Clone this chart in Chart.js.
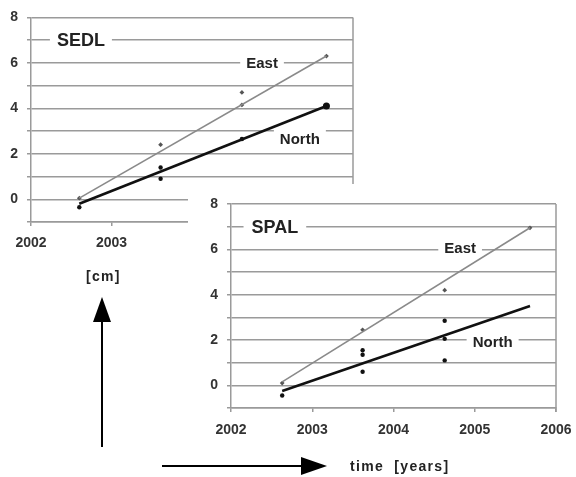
<!DOCTYPE html>
<html><head><meta charset="utf-8">
<script src="https://cdn.jsdelivr.net/npm/chart.js@4"></script>
<style>
html,body{margin:0;padding:0;background:#fff;width:576px;height:477px;overflow:hidden;}
#c1{position:absolute;left:0;top:0;}
#c2{position:absolute;left:188px;top:184px;background:#fff;}
.lbl{position:absolute;font:bold 14px "Liberation Sans",Arial,sans-serif;color:#222;white-space:pre;line-height:14px;letter-spacing:1.3px;}
svg{position:absolute;left:0;top:0;}
</style></head><body>
<canvas id="c1" width="370" height="250"></canvas>
<canvas id="c2" width="388" height="262"></canvas>
<svg width="576" height="477">
  <line x1="102" y1="447" x2="102" y2="318" stroke="#000" stroke-width="2"/>
  <polygon points="102,297 93,322 111,322" fill="#000"/>
  <line x1="162" y1="466" x2="304" y2="466" stroke="#000" stroke-width="2"/>
  <polygon points="327,466 301,457 301,475" fill="#000"/>
</svg>
<div class="lbl" style="left:86px;top:269px;">[cm]</div>
<div class="lbl" style="left:350px;top:459px;">time  [years]</div>
<script>
// ---- data ----
const xTickYears = [2002, 2003, 2004, 2005, 2006];
const yTickLabels = [0, 2, 4, 6, 8];

// SEDL
const sedlLineX = [2002.6, 2005.67];
const sedlEastLine = [0.05, 6.3];
const sedlNorthLine = [-0.2, 4.1];
const sedlEastObsX = [2002.6, 2003.61, 2004.62, 2004.62, 2005.67];
const sedlEastObsY = [0.05, 2.4, 4.7, 4.15, 6.3];
const sedlNorthObsX = [2002.6, 2003.61, 2003.61, 2004.62, 2005.67];
const sedlNorthObsY = [-0.35, 1.4, 0.9, 2.65, 4.1];

// SPAL
const spalLineX = [2002.63, 2005.68];
const spalEastLine = [0.15, 6.95];
const spalNorthLine = [-0.25, 3.5];
const spalEastObsX = [2002.63, 2003.62, 2004.63, 2005.68];
const spalEastObsY = [0.1, 2.45, 4.2, 6.95];
const spalNorthObsX = [2002.63, 2003.62, 2003.62, 2003.62, 2004.63, 2004.63, 2004.63];
const spalNorthObsY = [-0.45, 1.55, 1.35, 0.6, 2.85, 2.05, 1.1];

const seriesNames = ['East', 'North'];

// ---- helpers ----
const pts = (xs, ys) => xs.map((x, i) => ({x, y: ys[i]}));
const FONT = 'Liberation Sans';
const GRID = '#9a9a9a';

const textPlugin = {
  id: 'texts',
  beforeDatasetsDraw(chart, args, opts) {
    const {ctx, scales: {x, y}, chartArea: a} = chart;
    ctx.save();
    ctx.strokeStyle = GRID; ctx.lineWidth = 1.5;
    ctx.beginPath(); ctx.moveTo(a.right, a.top); ctx.lineTo(a.right, a.bottom + 4); ctx.stroke();
    (opts.items || []).forEach(it => {
      ctx.font = 'bold ' + it.size + 'px "' + FONT + '"';
      const w = ctx.measureText(it.text).width;
      const px = x.getPixelForValue(it.x), py = y.getPixelForValue(it.y);
      ctx.fillStyle = '#fff';
      ctx.fillRect(px - w / 2 - it.pad, py - it.h / 2, w + 2 * it.pad, it.h);
      ctx.fillStyle = '#222'; ctx.textAlign = 'center'; ctx.textBaseline = 'middle';
      ctx.fillText(it.text, px, py + 1);
    });
    ctx.restore();
  }
};

function makeChart(id, d, geom, items) {
  return new Chart(document.getElementById(id), {
    type: 'scatter',
    data: {
      datasets: [
        {label: seriesNames[0], data: pts(d.lineX, d.east), showLine: true, borderColor: '#8a8a8a', borderWidth: 1.6, pointRadius: 0},
        {label: seriesNames[1], data: pts(d.lineX, d.north), showLine: true, borderColor: '#111', borderWidth: 2.6, pointRadius: 0},
        {label: seriesNames[0] + ' obs', data: pts(d.eastX, d.eastY), pointRadius: 2.4, pointStyle: 'rectRot', backgroundColor: '#555', borderColor: '#555', borderWidth: 0},
        {label: seriesNames[1] + ' obs', data: pts(d.northX, d.northY), backgroundColor: '#111', borderColor: '#111', borderWidth: 0,
          pointRadius: ctx => (d.bigEnd && ctx.dataIndex === d.northX.length - 1) ? 3.5 : 2.2}
      ]
    },
    options: {
      responsive: false, animation: false, devicePixelRatio: 1,
      layout: {padding: {left: 0, top: geom.top, right: geom.right, bottom: 0}},
      plugins: {legend: {display: false}, tooltip: {enabled: false}, texts: {items}},
      scales: {
        x: {
          type: 'linear', min: 2002, max: 2006,
          afterFit: s => { s.height = geom.xh; s.paddingLeft = 0; s.paddingRight = 0; },
          afterBuildTicks: s => { s.ticks = xTickYears.map(v => ({value: v})); },
          ticks: {callback: v => (v <= geom.maxLabel ? String(v) : ''), color: '#333', padding: geom.xpad, maxRotation: 0,
                  font: {family: FONT, size: 14, weight: 'bold'}},
          grid: {drawOnChartArea: false, drawTicks: true, tickLength: 4, color: GRID, lineWidth: 1.5},
          border: {display: true, color: GRID, width: 1.5}
        },
        y: {
          min: -1, max: 8,
          afterFit: s => { s.width = geom.yw; },
          ticks: {stepSize: 1, autoSkip: false, color: '#333', padding: 9,
                  callback: v => yTickLabels.includes(v) ? String(v) : '',
                  font: {family: FONT, size: 14, weight: 'bold'}},
          grid: {color: GRID, lineWidth: 1.5, tickLength: 4},
          border: {display: true, color: GRID, width: 1.5}
        }
      }
    },
    plugins: [textPlugin]
  });
}

makeChart('c1', {lineX: sedlLineX, east: sedlEastLine, north: sedlNorthLine,
  eastX: sedlEastObsX, eastY: sedlEastObsY, northX: sedlNorthObsX, northY: sedlNorthObsY, bigEnd: true},
  {top: 14, right: 17, xh: 28, yw: 31, xpad: 9, maxLabel: 2003},
  [{text: 'SEDL', x: 2002.62, y: 7, size: 18, pad: 7, h: 16},
   {text: 'East', x: 2004.87, y: 6, size: 15, pad: 6, h: 14},
   {text: 'North', x: 2005.34, y: 2.67, size: 15, pad: 6, h: 18}]);

makeChart('c2', {lineX: spalLineX, east: spalEastLine, north: spalNorthLine,
  eastX: spalEastObsX, eastY: spalEastObsY, northX: spalNorthObsX, northY: spalNorthObsY, bigEnd: false},
  {top: 20, right: 20, xh: 38, yw: 43, xpad: 10, maxLabel: 2006},
  [{text: 'SPAL', x: 2002.54, y: 7, size: 18, pad: 8, h: 16},
   {text: 'East', x: 2004.82, y: 6.05, size: 15, pad: 6, h: 14},
   {text: 'North', x: 2005.22, y: 1.92, size: 15, pad: 6, h: 16}]);
</script>
</body></html>
